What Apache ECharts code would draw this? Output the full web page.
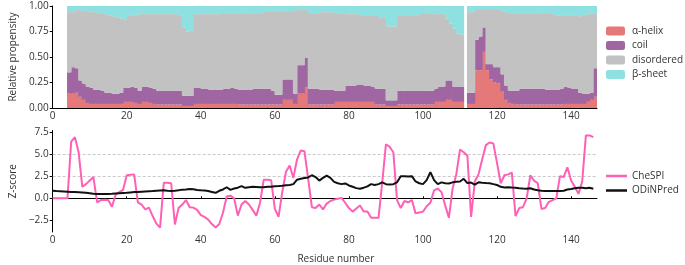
<!DOCTYPE html>
<html>
<head>
<meta charset="utf-8">
<script src="https://cdn.jsdelivr.net/npm/echarts@6/dist/echarts.min.js"></script>
<style>
  html, body { margin: 0; padding: 0; background: #fff; }
  #chart { width: 685px; height: 265px; }
</style>
</head>
<body>
<div id="chart"></div>
<script>
// residue numbers 0..146 (x positions of both panels)
const residues = Array.from({ length: 147 }, (_, i) => i);
const xTicks = [0, 20, 40, 60, 80, 100, 120, 140];
const zTicks = [-2.5, 0, 2.5, 5, 7.5];

// secondary structure propensities, first value = residue 4, residue 111 missing
const propStart = 4;
const helix = [
  .14,.14,.15,.11,.08,.05,.04,.04,.04,.04,
  .04,.04,.04,.04,.04,.06,.06,.06,.05,.04,
  .06,.06,.05,.04,.035,.035,.035,.035,.035,.035,
  .035,.02,.02,.02,.04,.04,.04,.04,.04,.04,
  .04,.04,.04,.04,.04,.04,.035,.035,.035,.035,
  .035,.035,.035,.035,.035,.035,.035,.035,.08,.08,
  .08,.04,.14,.14,.20,.035,.035,.035,.035,.035,
  .035,.035,.06,.06,.06,.06,.06,.06,.06,.06,
  .06,.06,.06,.035,.035,.035,.02,.02,.02,.035,
  .035,.035,.035,.035,.035,.035,.035,.035,.035,.06,
  .06,.06,.08,.08,.06,.06,.06,null,.04,.04,
  .37,.37,.55,.37,.28,.25,.24,.16,.08,.05,
  .04,.035,.035,.035,.035,.035,.035,.035,.035,.035,
  .035,.035,.035,.035,.04,.04,.04,.04,.04,.04,
  .06,.08,.11
];
const coil = [
  .21,.26,.24,.16,.16,.16,.16,.14,.14,.13,
  .11,.11,.10,.10,.11,.14,.14,.15,.15,.13,
  .15,.15,.15,.15,.135,.135,.135,.135,.135,.135,
  .135,.10,.10,.10,.16,.16,.15,.15,.14,.14,
  .14,.14,.15,.15,.16,.15,.145,.145,.145,.145,
  .155,.155,.155,.155,.155,.135,.095,.095,.20,.20,
  .20,.10,.28,.28,.29,.155,.155,.155,.145,.145,
  .145,.145,.11,.11,.11,.16,.16,.16,.17,.17,
  .16,.16,.15,.155,.155,.155,.055,.055,.055,.135,
  .135,.135,.135,.135,.135,.135,.135,.135,.135,.13,
  .15,.15,.19,.19,.15,.15,.15,null,.11,.11,
  .30,.33,.24,.06,.15,.15,.16,.17,.14,.12,
  .13,.135,.155,.155,.155,.155,.155,.155,.155,.145,
  .145,.145,.145,.155,.17,.16,.15,.15,.11,.10,
  .08,.07,.28
];
const disordered = [
  .59,.54,.57,.69,.71,.74,.74,.76,.75,.76,
  .77,.76,.76,.75,.73,.67,.71,.70,.71,.75,
  .71,.71,.72,.73,.75,.75,.75,.75,.75,.75,
  .74,.67,.63,.64,.72,.72,.73,.73,.74,.74,
  .74,.75,.74,.74,.73,.74,.75,.75,.75,.75,
  .74,.74,.74,.76,.76,.78,.82,.82,.67,.67,
  .67,.82,.54,.54,.47,.74,.74,.74,.76,.76,
  .76,.76,.76,.76,.76,.70,.70,.70,.69,.68,
  .69,.69,.70,.72,.70,.70,.725,.725,.725,.74,
  .74,.74,.74,.74,.74,.76,.76,.76,.76,.73,
  .71,.71,.61,.56,.57,.52,.51,null,.79,.79,
  .30,.27,.18,.54,.54,.57,.56,.62,.72,.76,
  .76,.76,.74,.74,.74,.74,.74,.74,.74,.75,
  .75,.74,.73,.72,.70,.71,.72,.72,.75,.77,
  .78,.77,.54
];
const sheet = [
  .06,.06,.04,.04,.05,.05,.06,.06,.07,.07,
  .08,.09,.10,.11,.12,.13,.09,.09,.09,.08,
  .08,.08,.08,.08,.08,.08,.08,.08,.08,.08,
  .09,.21,.25,.24,.08,.08,.08,.08,.08,.08,
  .08,.07,.07,.07,.07,.07,.07,.07,.07,.07,
  .07,.07,.07,.05,.05,.05,.05,.05,.05,.05,
  .05,.04,.04,.04,.04,.07,.07,.07,.06,.06,
  .06,.06,.07,.07,.07,.08,.08,.08,.08,.09,
  .09,.09,.09,.09,.11,.11,.20,.20,.20,.09,
  .09,.09,.09,.09,.09,.07,.07,.07,.07,.08,
  .08,.08,.12,.17,.22,.27,.28,null,.06,.06,
  .03,.03,.03,.03,.03,.03,.04,.05,.06,.07,
  .07,.07,.07,.07,.07,.07,.07,.07,.07,.07,
  .07,.08,.09,.09,.09,.09,.09,.09,.10,.09,
  .08,.08,.07
];

// Z-scores, residues 0..146
const chespi = [
  0,0,0,0,0,6.4,6.9,5.2,1.3,1.6,
  2.0,2.4,-0.45,-0.2,-0.15,-0.2,-0.95,0.4,0.7,0.95,
  2.6,2.65,2.7,-0.45,-0.7,-1.25,-1.05,-2.0,-2.85,-3.3,
  1.75,1.75,1.7,-2.95,-1.1,-0.7,-0.2,-1.0,-1.05,-1.3,
  -1.9,-2.1,-2.4,-2.9,-3.3,-2.9,-1.6,0.2,0.3,0.0,
  -1.95,-0.7,-0.3,-0.7,-1.3,-1.95,-0.5,2.1,2.1,2.05,
  -1.2,-2.1,0.7,3.0,3.7,2.3,4.4,5.4,5.3,2.2,
  -1.0,-1.1,-0.7,-1.25,-0.6,-0.3,-0.15,-0.05,0.05,-0.5,
  -1.1,-1.5,-1.15,-0.8,-1.5,-1.5,-2.2,-2.2,-2.2,1.8,
  6.1,5.8,5.2,-0.2,-1.1,-0.3,-0.45,-0.2,-1.7,-1.6,
  -1.5,-0.9,-0.5,0.9,1.1,0.7,-0.8,-2.2,1.1,2.7,
  5.5,5.2,4.8,-2.1,1.9,2.7,4.4,6.0,6.3,6.2,
  4.0,1.7,2.6,2.7,2.9,-2.0,-1.1,-1.0,0.0,2.6,
  2.0,1.7,-1.2,-1.1,-0.4,-0.2,0.0,2.5,2.4,3.5,
  2.0,1.3,0.5,1.9,7.1,7.1,6.9
];
const odinpred = [
  0.85,0.82,0.8,0.78,0.75,0.72,0.7,0.68,0.65,0.62,
  0.58,0.52,0.5,0.5,0.5,0.5,0.52,0.55,0.58,0.6,
  0.62,0.66,0.7,0.72,0.75,0.78,0.8,0.82,0.85,0.88,
  0.9,0.85,0.82,0.85,0.9,0.98,1.0,1.05,1.02,0.95,
  0.9,0.88,0.82,0.72,0.62,0.85,1.0,1.25,0.95,1.1,
  1.2,1.38,1.18,1.25,1.3,1.28,1.25,1.25,1.3,1.3,
  1.35,1.38,1.42,1.48,1.5,1.6,2.1,2.2,2.3,2.35,
  2.6,2.4,2.0,2.3,2.55,2.3,1.85,1.7,1.6,1.68,
  1.45,1.3,1.15,1.08,1.2,1.35,1.6,1.5,1.6,1.8,
  1.6,1.57,1.6,1.8,2.5,2.5,2.45,2.5,1.9,1.7,
  1.6,2.05,2.95,2.05,1.6,1.8,1.7,1.68,1.8,1.86,
  1.9,2.2,1.72,1.78,1.55,1.8,1.75,1.72,1.7,1.6,
  1.5,1.3,1.22,1.25,1.22,1.2,1.14,1.1,1.07,1.14,
  1.0,0.9,0.85,0.82,0.82,0.82,0.82,0.82,0.85,1.0,
  1.05,1.14,1.2,1.2,1.14,1.2,1.07
];
const zThresholds = [2.5, 5.0];

const font = 'Open Sans';
const textColor = '#333';

function propData(arr) {
  return arr.map((v, i) => [propStart + i, v]);
}
function lineData(arr) {
  return arr.map((v, i) => [residues[i], v]);
}

function propSeries(name, arr, color) {
  return {
    name: name,
    type: 'bar',
    stack: 'prop',
    xAxisIndex: 0,
    yAxisIndex: 0,
    barWidth: '125%',
    barGap: '-100%',
    itemStyle: { color: color },
    emphasis: { disabled: true },
    data: propData(arr)
  };
}

const axisLine = { show: true, lineStyle: { color: '#000', width: 1 } };
const labelStyle = { color: textColor, fontSize: 10, fontFamily: font };

let myChart = echarts.init(document.getElementById('chart'), null, { renderer: 'canvas' });

let option = {
  animation: false,
  backgroundColor: '#fff',
  textStyle: { fontFamily: font },
  grid: [
    { left: 43, top: 6, width: 554, height: 102 },
    { left: 43, top: 130.5, width: 554, height: 107 }
  ],
  legend: [
    {
      orient: 'vertical', left: 606, top: 24, padding: 0,
      itemWidth: 19, itemHeight: 9, itemGap: 0.5,
      textStyle: { color: textColor, fontSize: 10, fontFamily: font, lineHeight: 14, padding: [0, 0, 0, 2] },
      data: ['α-helix', 'coil', 'disordered', 'β-sheet']
    },
    {
      orient: 'vertical', left: 606, top: 169, padding: 0,
      icon: 'rect', itemWidth: 21, itemHeight: 2.5, itemGap: 0.5,
      textStyle: { color: textColor, fontSize: 10, fontFamily: font, lineHeight: 14 },
      data: ['CheSPI', 'ODiNPred']
    }
  ],
  xAxis: [
    {
      type: 'category', gridIndex: 0, show: false, position: 'top',
      data: residues, boundaryGap: true
    },
    {
      type: 'value', gridIndex: 0, min: 0, max: 147, position: 'bottom',
      axisLine: axisLine,
      axisTick: { show: true, inside: true, length: 2, customValues: xTicks, lineStyle: { color: '#000' } },
      axisLabel: Object.assign({ customValues: xTicks, margin: 3 }, labelStyle),
      splitLine: { show: false }
    },
    {
      type: 'value', gridIndex: 1, min: 0, max: 147, position: 'bottom',
      name: 'Residue number', nameLocation: 'middle', nameGap: 22,
      nameTextStyle: { color: textColor, fontSize: 10, fontFamily: font, padding: [0, 0, 0, 22] },
      axisLine: axisLine,
      axisTick: { show: true, inside: true, length: 2, customValues: xTicks, lineStyle: { color: '#000' } },
      axisLabel: Object.assign({ customValues: xTicks, margin: 3 }, labelStyle),
      splitLine: { show: false }
    }
  ],
  yAxis: [
    {
      type: 'value', gridIndex: 0, min: 0, max: 1, interval: 0.25,
      name: 'Relative propensity', nameLocation: 'middle', nameGap: 34,
      nameTextStyle: { color: textColor, fontSize: 10, fontFamily: font },
      axisLine: axisLine,
      axisTick: { show: true, length: 3, lineStyle: { color: '#000' } },
      axisLabel: Object.assign({ margin: 4, formatter: v => v.toFixed(2) }, labelStyle),
      splitLine: { show: false }
    },
    {
      type: 'value', gridIndex: 1, min: -3.8, max: 7.65,
      name: 'Z-score', nameLocation: 'middle', nameGap: 34,
      nameTextStyle: { color: textColor, fontSize: 10, fontFamily: font },
      axisLine: axisLine,
      axisTick: { show: true, length: 3, customValues: zTicks, lineStyle: { color: '#000' } },
      axisLabel: Object.assign({
        customValues: zTicks, margin: 4,
        formatter: v => v.toFixed(1).replace('-', '\u2212')
      }, labelStyle),
      splitLine: { show: false }
    }
  ],
  series: [
    propSeries('α-helix', helix, '#e57878'),
    propSeries('coil', coil, '#a066a2'),
    propSeries('disordered', disordered, '#c2c2c2'),
    propSeries('β-sheet', sheet, '#8fe0e0'),
    {
      name: 'CheSPI',
      type: 'line',
      xAxisIndex: 2, yAxisIndex: 1,
      symbol: 'none',
      lineStyle: { color: '#ff5fb4', width: 2 },
      itemStyle: { color: '#ff5fb4' },
      emphasis: { disabled: true },
      markLine: {
        silent: true, symbol: 'none', z: 1,
        label: { show: false },
        lineStyle: { color: '#bbb', type: [3, 2], width: 0.8 },
        data: zThresholds.map(v => ({ yAxis: v }))
      },
      data: lineData(chespi)
    },
    {
      name: 'ODiNPred',
      type: 'line',
      xAxisIndex: 2, yAxisIndex: 1,
      symbol: 'none',
      lineStyle: { color: '#111', width: 2 },
      itemStyle: { color: '#111' },
      emphasis: { disabled: true },
      data: lineData(odinpred)
    }
  ]
};

myChart.setOption(option, true);
</script>
</body>
</html>
